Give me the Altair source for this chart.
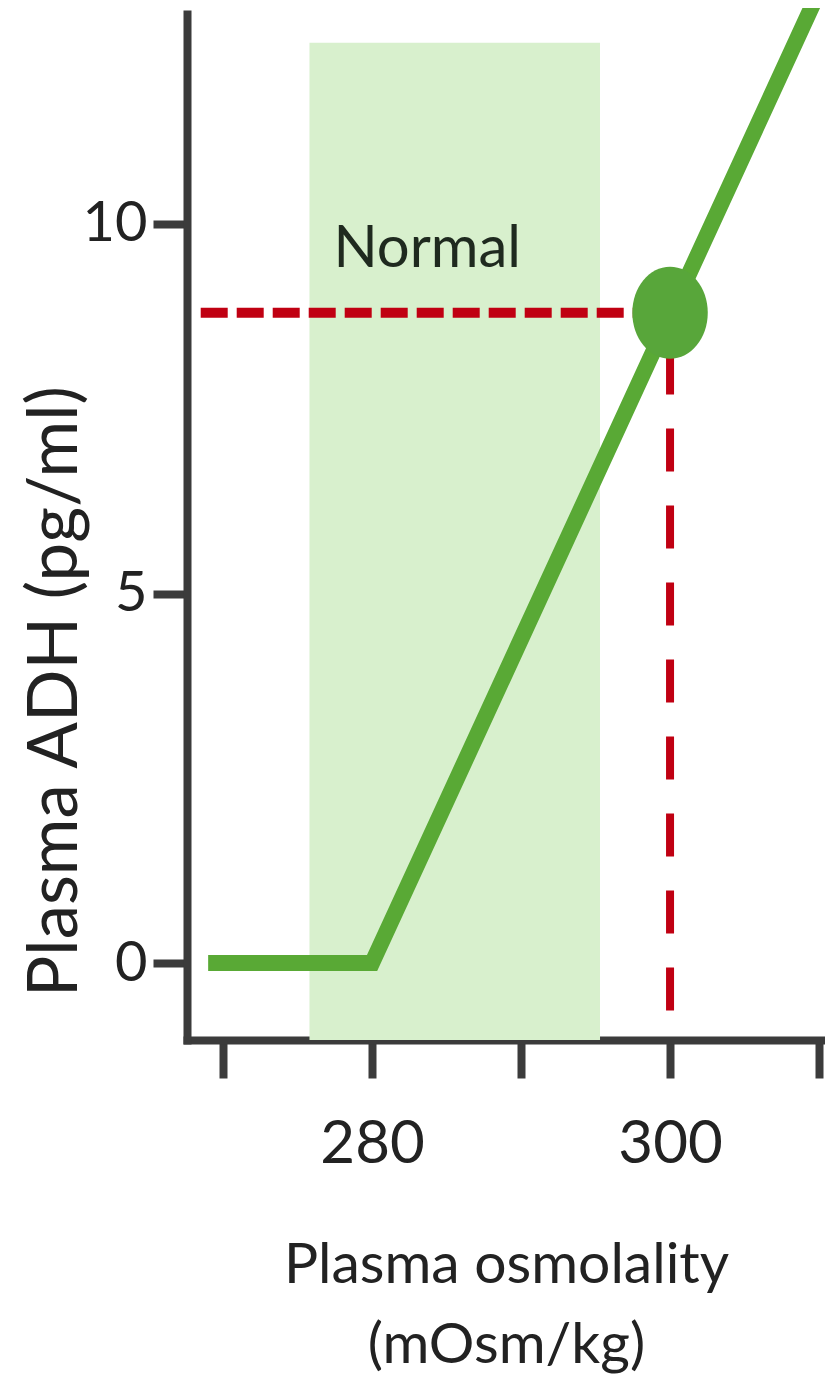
import altair as alt
import pandas as pd

# ---- data ----
curve_x = [269.0, 280.0, 310.0]
curve_y = [0.0, 0.0, 13.15]

normal_x = [275.8, 295.3]
normal_y = [-1.04, 12.45]

point_x = [300.0]
point_y = [8.8]

hline_x = [268.5, 300.0]
vline_y = [-0.64, 8.8]

label_text = ["Normal"]
label_x = [283.7]
label_y = [9.65]

x_ticks = [270, 280, 290, 300, 310]
y_ticks = [0, 5, 10]

X_DOMAIN = [267.58, 310.4]
Y_DOMAIN = [-1.04, 12.84]

FONT = "Lato"
AXIS_COLOR = "#3b3b3b"
GREEN = "#59a935"
RED = "#c00012"

xs = alt.Scale(domain=X_DOMAIN, nice=False, zero=False)
ys = alt.Scale(domain=Y_DOMAIN, nice=False, zero=False)

x_axis = alt.Axis(
    values=x_ticks,
    labelExpr="(datum.value == 280 || datum.value == 300) ? datum.label : ''",
    title=["Plasma osmolality", "(mOsm/kg)"],
    grid=False,
    tickSize=38, tickWidth=8, tickColor=AXIS_COLOR,
    domainWidth=8, domainColor=AXIS_COLOR, domainCap="square",
    labelFont=FONT, labelFontSize=60, labelColor="#222222",
    labelBaseline="alphabetic", labelPadding=84,
    titleFont=FONT, titleFontSize=57, titleFontWeight="normal", titleColor="#222222",
    titleX=319, titleY=242, titleAlign="center", titleBaseline="alphabetic",
    titleLineHeight=80,
)
y_axis = alt.Axis(
    values=y_ticks,
    title="Plasma ADH (pg/ml)",
    grid=False,
    tickSize=34, tickWidth=8, tickColor=AXIS_COLOR,
    domainWidth=8, domainColor=AXIS_COLOR, domainCap="square",
    labelFont=FONT, labelFontSize=56, labelColor="#222222",
    labelPadding=6, labelBaseline="middle",
    titleFont=FONT, titleFontSize=69, titleFontWeight="normal", titleColor="#222222",
    titleX=-111, titleY=677, titleAngle=270, titleAlign="center", titleBaseline="alphabetic",
)


def X(field):
    return alt.X(field, scale=xs, axis=x_axis)


def Y(field):
    return alt.Y(field, scale=ys, axis=y_axis)


rect_df = pd.DataFrame({"x": [normal_x[0]], "x2": [normal_x[1]], "y": [normal_y[0]], "y2": [normal_y[1]]})
shade = alt.Chart(rect_df).mark_rect(color="#d8f0cd").encode(
    x=X("x:Q"), x2="x2:Q", y=Y("y:Q"), y2="y2:Q",
)

label_df = pd.DataFrame({"t": label_text, "x": label_x, "y": label_y})
label = alt.Chart(label_df).mark_text(
    font=FONT, fontSize=58, color="#1f2a1f", align="center", baseline="middle"
).encode(x=X("x:Q"), y=Y("y:Q"), text="t:N")

h_df = pd.DataFrame({"x": [hline_x[0]], "x2": [hline_x[1]], "y": [point_y[0]]})
hline = alt.Chart(h_df).mark_rule(color=RED, strokeWidth=10, strokeDash=[27, 9]).encode(
    x=X("x:Q"), x2="x2:Q", y=Y("y:Q"),
)

v_df = pd.DataFrame({"x": [point_x[0]], "y": [vline_y[0]], "y2": [vline_y[1]]})
vline = alt.Chart(v_df).mark_rule(color=RED, strokeWidth=8, strokeDash=[43, 34]).encode(
    x=X("x:Q"), y=Y("y:Q"), y2="y2:Q",
)

curve_df = pd.DataFrame({"x": curve_x, "y": curve_y, "o": list(range(len(curve_x)))})
curve = alt.Chart(curve_df).mark_line(
    color=GREEN, strokeWidth=16, strokeJoin="miter", strokeCap="butt", clip=False
).encode(x=X("x:Q"), y=Y("y:Q"), order="o:Q")

pt_df = pd.DataFrame({"x": point_x, "y": point_y})
ellipse = "M-0.82,0 A0.82,1 0 1,1 0.82,0 A0.82,1 0 1,1 -0.82,0 Z"
point = alt.Chart(pt_df).mark_point(
    filled=True, shape=ellipse, size=8464, color="#58a63a", opacity=1
).encode(x=X("x:Q"), y=Y("y:Q"))

chart = alt.layer(shade, label, hline, vline, curve, point).properties(
    width=638,
    height=1026,
    padding={"left": 179, "top": 6, "right": 0, "bottom": 335},
    autosize=alt.AutoSizeParams(type="none"),
    background="white",
).configure_view(stroke=None)

chart.save("out.html", embed_options={"renderer": "svg", "actions": False})
